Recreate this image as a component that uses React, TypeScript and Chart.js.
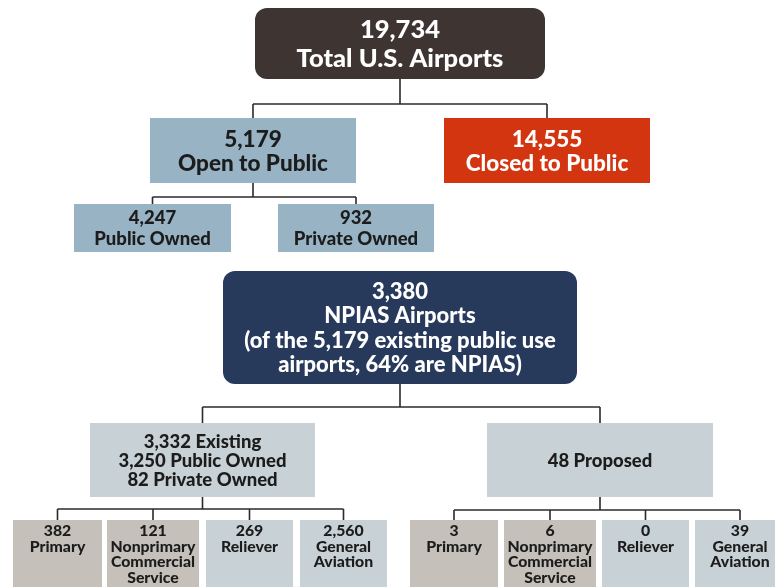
import React, { useEffect, useRef } from "react";
import { Chart, registerables } from "chart.js";

Chart.register(...registerables);

// ---------- DATA ----------
const nodeIds = [
  "total", "open", "closed", "publicOwned", "privateOwned",
  "npias", "existing", "proposed",
  "exPrimary", "exNonprimary", "exReliever", "exGA",
  "prPrimary", "prNonprimary", "prReliever", "prGA",
];
const nodeValues = [19734, 5179, 14555, 4247, 932, 3380, 3332, 48, 382, 121, 269, 2560, 3, 6, 0, 39];
const nodeNames = [
  ["Total U.S. Airports"],
  ["Open to Public"],
  ["Closed to Public"],
  ["Public Owned"],
  ["Private Owned"],
  ["NPIAS Airports", "(of the 5,179 existing public use", "airports, 64% are NPIAS)"],
  ["Existing"],
  ["Proposed"],
  ["Primary"],
  ["Nonprimary", "Commercial", "Service"],
  ["Reliever"],
  ["General", "Aviation"],
  ["Primary"],
  ["Nonprimary", "Commercial", "Service"],
  ["Reliever"],
  ["General", "Aviation"],
];
const existingPublicOwned = 3250;
const existingPrivateOwned = 82;
const nodeParents = [-1, 0, 0, 1, 1, -1, 5, 5, 6, 6, 6, 6, 7, 7, 7, 7];

// ---------- LAYOUT (positions/sizes, in axis units) ----------
const boxLayout: number[][] = [
  [255, 8, 545, 79],
  [150, 118, 356, 183],
  [444, 118, 650, 183],
  [74, 204, 231, 252],
  [278, 204, 434, 252],
  [223, 271, 577, 384],
  [90, 423, 315, 497],
  [487, 423, 713, 497],
  [13, 520, 102, 600],
  [107, 520, 199, 600],
  [206, 520, 293, 600],
  [300, 520, 387, 600],
  [410, 520, 498, 600],
  [504, 520, 596, 600],
  [602, 520, 689, 600],
  [695, 520, 785, 600],
];
const busY: Record<number, number> = { 0: 104, 1: 197, 5: 407, 6: 509, 7: 510 };

// ---------- STYLE ----------
const boxRadius = [12, 0, 0, 0, 0, 12, 0, 0, 0, 0, 0, 0, 0, 0, 0, 0];
const boxColors = [
  "#3e3533", "#97b3c4", "#d2350f", "#97b3c4", "#97b3c4",
  "#283a5c", "#c8d2d6", "#c8d2d6",
  "#c5c1ba", "#c5c1ba", "#c8d2d6", "#c8d2d6",
  "#c5c1ba", "#c5c1ba", "#c8d2d6", "#c8d2d6",
];
const textColors = boxColors.map((c, i) => (i === 0 || i === 2 || i === 5 ? "#ffffff" : "#1c1c1c"));
const fontSizes = [25.5, 22.5, 22.5, 18.5, 18.5, 22, 18.5, 18.5, 15.8, 15.8, 15.8, 15.8, 15.8, 15.8, 15.8, 15.8];
const lineHeights = [29, 24, 24, 21, 21, 24.5, 19, 19, 15.5, 15.5, 15.5, 15.5, 15.5, 15.5, 15.5, 15.5];
const FONT = "Lato, 'Open Sans', sans-serif";

const fmt = (v: number) => v.toLocaleString("en-US");

function nodeLines(i: number): string[] {
  if (nodeIds[i] === "existing") {
    return [
      `${fmt(nodeValues[i])} ${nodeNames[i][0]}`,
      `${fmt(existingPublicOwned)} Public Owned`,
      `${fmt(existingPrivateOwned)} Private Owned`,
    ];
  }
  if (nodeIds[i] === "proposed") return [`${fmt(nodeValues[i])} ${nodeNames[i][0]}`];
  return [fmt(nodeValues[i]), ...nodeNames[i]];
}

function cx(i: number) {
  return (boxLayout[i][0] + boxLayout[i][2]) / 2;
}

function buildConnectors() {
  const sets: { x: number; y: number }[][] = [];
  const parents = Array.from(new Set(nodeParents.filter((p) => p >= 0)));
  parents.forEach((p) => {
    const kids = nodeParents.map((q, i) => (q === p ? i : -1)).filter((i) => i >= 0);
    const by = busY[p];
    sets.push([{ x: cx(p), y: boxLayout[p][3] }, { x: cx(p), y: by }]);
    const xs = kids.map(cx);
    sets.push([{ x: Math.min(...xs), y: by }, { x: Math.max(...xs), y: by }]);
    kids.forEach((k) => sets.push([{ x: cx(k), y: by }, { x: cx(k), y: boxLayout[k][1] }]));
  });
  return sets;
}

const boxPlugin = {
  id: "orgBoxes",
  afterDatasetsDraw(chart: any) {
    const { ctx, scales } = chart;
    const sx = scales.x, sy = scales.y;
    ctx.save();
    boxLayout.forEach((b, i) => {
      const x1 = sx.getPixelForValue(b[0]);
      const x2 = sx.getPixelForValue(b[2]);
      const y1 = sy.getPixelForValue(b[1]);
      const y2 = sy.getPixelForValue(b[3]);
      ctx.fillStyle = boxColors[i];
      ctx.beginPath();
      if (boxRadius[i] > 0) ctx.roundRect(x1, y1, x2 - x1, y2 - y1, boxRadius[i]);
      else ctx.rect(x1, y1, x2 - x1, y2 - y1);
      ctx.fill();

      const lines = nodeLines(i);
      const lh = lineHeights[i];
      ctx.fillStyle = textColors[i];
      ctx.font = `900 ${fontSizes[i]}px ${FONT}`;
      ctx.textAlign = "center";
      ctx.textBaseline = "middle";
      const mid = (x1 + x2) / 2;
      let firstY: number;
      if (i >= 8) firstY = y1 + 11;
      else firstY = (y1 + y2) / 2 + 1 - ((lines.length - 1) * lh) / 2;
      lines.forEach((t, k) => ctx.fillText(t, mid, firstY + k * lh));
    });
    ctx.restore();
  },
};

export default function App() {
  const ref = useRef<HTMLCanvasElement>(null);
  useEffect(() => {
    document.body.style.margin = "0";
    const conns = buildConnectors();
    const chart = new Chart(ref.current!, {
      type: "scatter",
      data: {
        datasets: conns.map((pts) => ({
          data: pts,
          showLine: true,
          borderColor: "#2a2a2a",
          borderWidth: 1.6,
          pointRadius: 0,
          fill: false,
        })),
      },
      options: {
        responsive: false,
        animation: false,
        devicePixelRatio: 1,
        layout: { padding: 0 },
        plugins: { legend: { display: false }, tooltip: { enabled: false } },
        scales: {
          x: { type: "linear", min: 0, max: 775, display: false },
          y: { type: "linear", min: 0, max: 587, reverse: true, display: false },
        },
      },
      plugins: [boxPlugin],
    });
    return () => chart.destroy();
  }, []);
  return (
    <div style={{ width: 775, height: 587, background: "#ffffff" }}>
      <canvas ref={ref} width={775} height={587} style={{ display: "block" }} />
    </div>
  );
}
